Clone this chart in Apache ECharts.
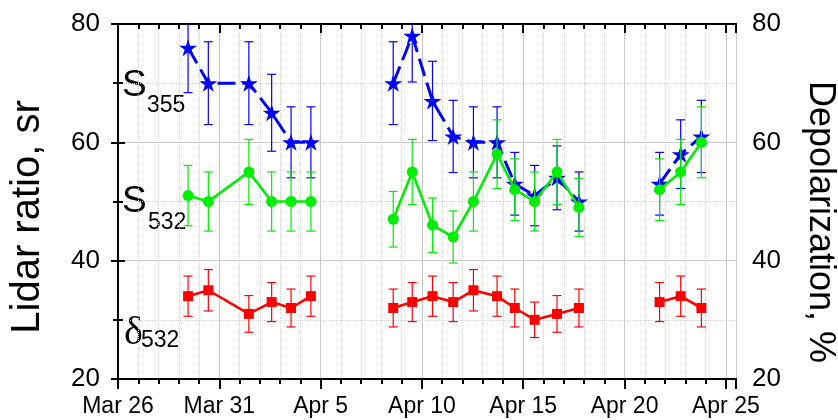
<!DOCTYPE html>
<html>
<head>
<meta charset="utf-8">
<script src="https://cdn.jsdelivr.net/npm/echarts@6/dist/echarts.min.js"></script>
<style>
  html, body { margin: 0; padding: 0; background: #fff; }
  #chart { width: 838px; height: 420px; }
</style>
</head>
<body>
<div id="chart"></div>
<script>
// Measurement times (month-day hour:minute)
const sampleTimes = [
  '03-29 11:00', '03-30 11:00', '04-01 11:00', '04-02 14:00', '04-03 13:00', '04-04 12:30',
  '04-08 14:00', '04-09 12:30', '04-10 12:30', '04-11 13:00', '04-12 13:00', '04-13 17:00',
  '04-14 14:00', '04-15 13:30', '04-16 16:00', '04-17 18:00',
  '04-21 17:30', '04-22 18:30', '04-23 19:00'
];

// Lidar ratio at 355 nm, sr
const s355 = [76, 70, 70, 65, 60, 60, 70, 78, 67, 61, 60, 60, 53, 51, 54, 50, 53, 58, 61];
const s355Err = [7.6, 7, 7, 6.5, 6, 6, 7, 7.8, 6.7, 6.1, 6, 6, 5.3, 5.1, 5.4, 5, 5.3, 5.8, 6.1];

// Lidar ratio at 532 nm, sr
const s532 = [51, 50, 55, 50, 50, 50, 47, 55, 46, 44, 50, 58, 52, 50, 55, 49, 52, 55, 60];
const s532Err = [5.1, 5, 5.5, 5, 5, 5, 4.7, 5.5, 4.6, 4.4, 5, 5.8, 5.2, 5, 5.5, 4.9, 5.2, 5.5, 6];

// Particle depolarization at 532 nm, %
const d532 = [34, 35, 31, 33, 32, 34, 32, 33, 34, 33, 35, 34, 32, 30, 31, 32, 33, 34, 32];
const d532Err = [3.4, 3.5, 3.1, 3.3, 3.2, 3.4, 3.2, 3.3, 3.4, 3.3, 3.5, 3.4, 3.2, 3.0, 3.1, 3.2, 3.3, 3.4, 3.2];

// Date axis labels, one every five days starting at Mar 26
const xTickLabels = ['Mar 26', 'Mar 31', 'Apr 5', 'Apr 10', 'Apr 15', 'Apr 20', 'Apr 25'];

const FONT = '"Liberation Sans", Arial, sans-serif';
const SERIF = '"Liberation Serif", "Times New Roman", serif';

// Days elapsed since Mar 26 00:00
function dayOffset(s) {
  const m = s.match(/(\d+)-(\d+) (\d+):(\d+)/);
  const t = Date.UTC(2000, +m[1] - 1, +m[2], +m[3], +m[4]);
  return (t - Date.UTC(2000, 2, 26)) / 86400000;
}
const xDays = sampleTimes.map(dayOffset);

// Line data with a break wherever observations are more than two days apart
function lineData(vals) {
  const out = [];
  for (let i = 0; i < vals.length; i++) {
    if (i > 0 && xDays[i] - xDays[i - 1] > 2) out.push([(xDays[i] + xDays[i - 1]) / 2, '-']);
    out.push([xDays[i], vals[i]]);
  }
  return out;
}
function errData(vals, errs) {
  return vals.map((v, i) => [xDays[i], v - errs[i], v + errs[i]]);
}

function errorBarRenderer(color) {
  return function (params, api) {
    const x = api.value(0);
    const lo = api.coord([x, api.value(1)]);
    const hi = api.coord([x, api.value(2)]);
    const hw = 4.5;
    const st = { stroke: color, lineWidth: 1.2 };
    return {
      type: 'group',
      children: [
        { type: 'line', shape: { x1: lo[0], y1: lo[1], x2: hi[0], y2: hi[1] }, style: st },
        { type: 'line', shape: { x1: lo[0] - hw, y1: lo[1], x2: lo[0] + hw, y2: lo[1] }, style: st },
        { type: 'line', shape: { x1: hi[0] - hw, y1: hi[1], x2: hi[0] + hw, y2: hi[1] }, style: st }
      ]
    };
  };
}

const STAR = 'path://M50,0L61.17,34.63L97.55,34.55L68.07,55.87L79.39,90.45L50,69L20.61,90.45L31.93,55.87L2.45,34.55L38.83,34.63Z';

const BLUE = '#0000ff', GREEN = '#00ee00', RED = '#ff0000';
const GRID_SOLID = '#c8c8c8', GRID_DOT = '#d2d2d2';

const blackLine = { color: '#000', width: 2 };

function xAxisCfg(pos, interval, opts) {
  return Object.assign({
    type: 'value', position: pos, min: 0, max: 30.5, interval: interval,
    axisLine: { show: true, onZero: false, lineStyle: blackLine },
    axisTick: { show: true, inside: false, length: 5, lineStyle: blackLine },
    axisLabel: { show: false },
    splitLine: { show: false }
  }, opts);
}

function label(text, x, y, size, family) {
  return {
    type: 'text', x: x, y: y,
    style: {
      text: text, fontSize: size, fontFamily: family || FONT, fontStyle: 'normal', fontWeight: 'normal',
      fill: '#000', align: 'left', verticalAlign: 'middle'
    }
  };
}

const chart = echarts.init(document.getElementById('chart'), null, { renderer: 'canvas' });

chart.setOption({
  animation: false,
  backgroundColor: '#fff',
  grid: { left: 118, right: 102, top: 24, bottom: 41, outerBoundsMode: 'none' },
  xAxis: [
    xAxisCfg('bottom', 1, {
      splitLine: { show: true, lineStyle: { color: GRID_DOT, width: 1, type: 'dotted' } }
    }),
    xAxisCfg('bottom', 5, {
      axisTick: { show: true, inside: false, length: 10, lineStyle: blackLine },
      axisLabel: {
        show: true, color: '#000', fontFamily: FONT, fontSize: 23, margin: 16,
        formatter: v => (Math.abs(v / 5 - Math.round(v / 5)) < 1e-6 ? (xTickLabels[Math.round(v / 5)] || '') : '')
      },
      splitLine: { show: true, lineStyle: { color: GRID_SOLID, width: 1 } }
    }),
    xAxisCfg('top', 1, { axisTick: { show: true, inside: true, length: 5, lineStyle: blackLine } }),
    xAxisCfg('top', 5, { axisTick: { show: true, inside: true, length: 9, lineStyle: blackLine } })
  ],
  yAxis: [
    {
      type: 'value', position: 'left', min: 20, max: 80, interval: 20,
      axisLine: { show: true, lineStyle: blackLine },
      axisTick: { show: true, length: 7, lineStyle: blackLine },
      minorTick: { show: true, splitNumber: 2, length: 5, lineStyle: blackLine },
      axisLabel: { color: '#000', fontFamily: FONT, fontSize: 26, margin: 18 },
      splitLine: { show: true, lineStyle: { color: GRID_SOLID, width: 1 } },
      minorSplitLine: { show: true, lineStyle: { color: GRID_DOT, width: 1, type: 'dotted' } }
    },
    {
      type: 'value', position: 'right', min: 20, max: 80, interval: 20,
      axisLine: { show: true, lineStyle: blackLine },
      axisTick: { show: true, length: 7, lineStyle: blackLine },
      minorTick: { show: true, splitNumber: 2, length: 5, lineStyle: blackLine },
      axisLabel: { color: '#000', fontFamily: FONT, fontSize: 26, margin: 16 },
      splitLine: { show: false }
    }
  ],
  series: [
    {
      type: 'custom', name: 'S355 err', xAxisIndex: 1, yAxisIndex: 0, clip: true,
      renderItem: errorBarRenderer(BLUE), data: errData(s355, s355Err),
      encode: { x: 0, y: [1, 2] }, z: 2
    },
    {
      type: 'line', name: 'S355', xAxisIndex: 1, yAxisIndex: 0,
      data: lineData(s355), connectNulls: false,
      lineStyle: { color: BLUE, width: 3, type: [18, 7] },
      symbol: STAR, symbolSize: [18, 17],
      itemStyle: { color: BLUE }, z: 3
    },
    {
      type: 'custom', name: 'S532 err', xAxisIndex: 1, yAxisIndex: 0, clip: true,
      renderItem: errorBarRenderer(GREEN), data: errData(s532, s532Err),
      encode: { x: 0, y: [1, 2] }, z: 4
    },
    {
      type: 'line', name: 'S532', xAxisIndex: 1, yAxisIndex: 0,
      data: lineData(s532), connectNulls: false,
      lineStyle: { color: GREEN, width: 2.6 },
      symbol: 'circle', symbolSize: 11,
      itemStyle: { color: GREEN }, z: 5
    },
    {
      type: 'custom', name: 'd532 err', xAxisIndex: 1, yAxisIndex: 1, clip: true,
      renderItem: errorBarRenderer(RED), data: errData(d532, d532Err),
      encode: { x: 0, y: [1, 2] }, z: 6
    },
    {
      type: 'line', name: 'd532', xAxisIndex: 1, yAxisIndex: 1,
      data: lineData(d532), connectNulls: false,
      lineStyle: { color: RED, width: 2.6 },
      symbol: 'rect', symbolSize: 10,
      itemStyle: { color: RED }, z: 7
    }
  ],
  graphic: [
    {
      type: 'text', x: 28, y: 217, rotation: Math.PI / 2,
      style: { text: 'Lidar ratio, sr', fontSize: 40, fontFamily: FONT, fontStyle: 'normal', fill: '#000', align: 'center', verticalAlign: 'middle' }
    },
    {
      type: 'text', x: 820, y: 222, rotation: -Math.PI / 2,
      style: { text: 'Depolarization, %', fontSize: 36, fontFamily: FONT, fontStyle: 'normal', fill: '#000', align: 'center', verticalAlign: 'middle' }
    },
    label('S', 122, 86, 37),
    label('355', 147, 106, 23),
    label('S', 122, 202, 37),
    label('532', 148, 223, 23),
    label('δ', 124, 333, 40, SERIF),
    label('532', 141, 341, 23)
  ]
});
</script>
</body>
</html>
